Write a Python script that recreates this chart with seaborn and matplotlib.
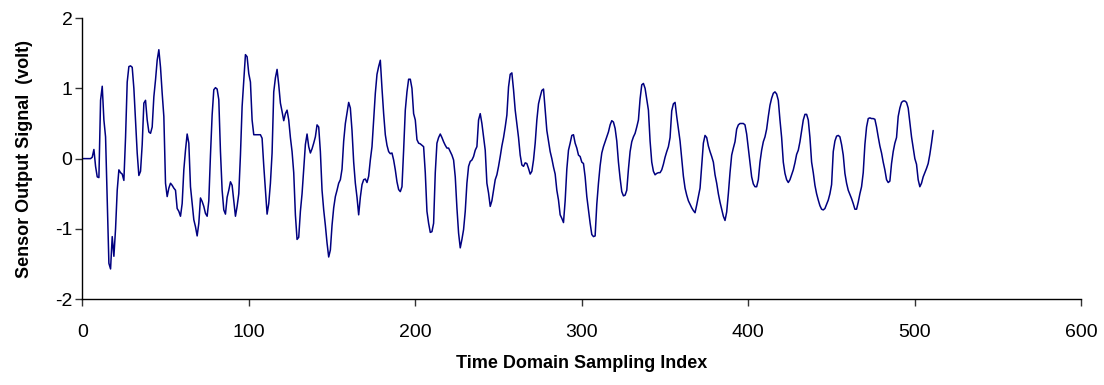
import numpy as np
import pandas as pd
import matplotlib
matplotlib.use('Agg')
import matplotlib.pyplot as plt
import seaborn as sns

# sensor output, one value per sampling index 0..511
signal_volt = [
    0.00, 0.00, 0.00, 0.00, 0.00, 0.00, 0.02, 0.13, -0.11, -0.26,
    -0.27, 0.83, 1.03, 0.55, 0.31, -0.60, -1.49, -1.57, -1.11, -1.39,
    -1.00, -0.45, -0.16, -0.20, -0.22, -0.31, 0.30, 1.09, 1.31, 1.32,
    1.30, 1.00, 0.55, 0.08, -0.24, -0.18, 0.20, 0.79, 0.83, 0.55,
    0.38, 0.36, 0.45, 0.88, 1.12, 1.40, 1.55, 1.30, 0.93, 0.60,
    -0.35, -0.54, -0.42, -0.35, -0.38, -0.42, -0.45, -0.71, -0.75, -0.82,
    -0.64, -0.16, 0.12, 0.35, 0.22, -0.40, -0.64, -0.87, -0.97, -1.10,
    -0.92, -0.56, -0.61, -0.68, -0.78, -0.82, -0.60, 0.05, 0.62, 0.98,
    1.01, 0.99, 0.84, 0.10, -0.45, -0.73, -0.79, -0.55, -0.45, -0.33,
    -0.38, -0.60, -0.82, -0.68, -0.50, 0.05, 0.74, 1.10, 1.48, 1.45,
    1.21, 1.09, 0.55, 0.34, 0.34, 0.34, 0.34, 0.34, 0.29, -0.10,
    -0.45, -0.79, -0.64, -0.35, 0.08, 0.95, 1.15, 1.27, 1.05, 0.79,
    0.67, 0.54, 0.64, 0.69, 0.55, 0.30, 0.10, -0.20, -0.80, -1.15,
    -1.12, -0.75, -0.50, -0.14, 0.20, 0.35, 0.17, 0.08, 0.14, 0.22,
    0.31, 0.48, 0.45, 0.10, -0.45, -0.73, -0.95, -1.20, -1.40, -1.30,
    -0.95, -0.70, -0.54, -0.45, -0.35, -0.30, -0.15, 0.25, 0.50, 0.65,
    0.80, 0.72, 0.40, -0.05, -0.35, -0.55, -0.80, -0.55, -0.37, -0.30,
    -0.29, -0.34, -0.25, -0.02, 0.17, 0.55, 0.93, 1.20, 1.31, 1.40,
    1.00, 0.64, 0.34, 0.19, 0.10, 0.07, 0.08, -0.02, -0.16, -0.33,
    -0.44, -0.47, -0.40, 0.12, 0.69, 0.95, 1.13, 1.13, 1.00, 0.64,
    0.55, 0.27, 0.22, 0.21, 0.19, 0.17, -0.20, -0.75, -0.92, -1.05,
    -1.04, -0.92, -0.20, 0.22, 0.30, 0.35, 0.30, 0.24, 0.19, 0.15,
    0.15, 0.10, 0.05, -0.02, -0.26, -0.70, -1.06, -1.27, -1.15, -1.01,
    -0.75, -0.35, -0.11, -0.04, -0.02, 0.03, 0.12, 0.17, 0.55, 0.64,
    0.50, 0.31, 0.12, -0.35, -0.49, -0.68, -0.60, -0.45, -0.30, -0.23,
    -0.11, 0.03, 0.18, 0.30, 0.45, 0.62, 1.02, 1.20, 1.22, 0.98,
    0.69, 0.50, 0.30, 0.05, -0.09, -0.11, -0.06, -0.07, -0.14, -0.22,
    -0.18, -0.02, 0.22, 0.55, 0.78, 0.88, 0.97, 0.99, 0.70, 0.40,
    0.25, 0.10, 0.00, -0.12, -0.22, -0.45, -0.59, -0.80, -0.85, -0.91,
    -0.60, -0.15, 0.12, 0.22, 0.33, 0.34, 0.22, 0.15, 0.05, 0.03,
    -0.05, -0.07, -0.26, -0.54, -0.73, -0.92, -1.08, -1.11, -1.10, -0.65,
    -0.35, -0.10, 0.08, 0.17, 0.24, 0.31, 0.38, 0.48, 0.54, 0.52,
    0.43, 0.25, -0.05, -0.28, -0.47, -0.53, -0.52, -0.45, -0.15, 0.10,
    0.24, 0.31, 0.36, 0.45, 0.55, 0.85, 1.05, 1.07, 1.00, 0.85,
    0.69, 0.25, -0.05, -0.18, -0.23, -0.21, -0.20, -0.20, -0.16, -0.08,
    0.02, 0.10, 0.17, 0.30, 0.68, 0.78, 0.80, 0.60, 0.42, 0.25,
    0.00, -0.25, -0.42, -0.52, -0.60, -0.65, -0.70, -0.74, -0.77, -0.66,
    -0.54, -0.42, -0.10, 0.22, 0.33, 0.30, 0.18, 0.10, 0.03, -0.05,
    -0.23, -0.35, -0.50, -0.62, -0.72, -0.82, -0.88, -0.76, -0.50, -0.20,
    0.05, 0.15, 0.24, 0.42, 0.48, 0.50, 0.50, 0.50, 0.48, 0.35,
    0.15, -0.05, -0.26, -0.36, -0.40, -0.40, -0.30, -0.05, 0.12, 0.24,
    0.31, 0.42, 0.60, 0.76, 0.86, 0.93, 0.95, 0.92, 0.83, 0.55,
    0.30, -0.05, -0.21, -0.30, -0.34, -0.30, -0.23, -0.16, -0.06, 0.06,
    0.12, 0.24, 0.40, 0.55, 0.63, 0.63, 0.55, 0.30, -0.05, -0.20,
    -0.38, -0.50, -0.59, -0.67, -0.72, -0.73, -0.71, -0.65, -0.59, -0.50,
    -0.37, 0.10, 0.25, 0.32, 0.33, 0.31, 0.20, 0.05, -0.21, -0.35,
    -0.45, -0.51, -0.57, -0.64, -0.72, -0.72, -0.62, -0.50, -0.40, -0.20,
    0.20, 0.45, 0.57, 0.58, 0.57, 0.57, 0.56, 0.45, 0.31, 0.18,
    0.08, -0.05, -0.16, -0.30, -0.34, -0.32, -0.07, 0.10, 0.22, 0.30,
    0.60, 0.72, 0.80, 0.82, 0.82, 0.80, 0.72, 0.52, 0.31, 0.15,
    0.00, -0.08, -0.30, -0.40, -0.35, -0.26, -0.20, -0.14, -0.07, 0.06,
    0.22, 0.40,
]
sample_index = np.arange(len(signal_volt))

x_ticks = [0, 100, 200, 300, 400, 500, 600]
y_ticks = [-2, -1, 0, 1, 2]

df = pd.DataFrame({'index': sample_index, 'volt': signal_volt})

sns.set_style('ticks')
plt.rcParams['font.family'] = ['Liberation Sans', 'DejaVu Sans']
plt.rcParams['axes.unicode_minus'] = False
plt.rcParams['text.color'] = 'black'
plt.rcParams['axes.labelcolor'] = 'black'
plt.rcParams['xtick.labelcolor'] = 'black'
plt.rcParams['ytick.labelcolor'] = 'black'

fig = plt.figure(figsize=(11.04, 3.85), dpi=100)
ax = fig.add_axes([0.0745, 0.223, 0.905, 0.730])

sns.lineplot(data=df, x='index', y='volt', ax=ax, color='#000080', linewidth=1.1)

ax.set_xlim(0, 600)
ax.set_ylim(-2, 2)
ax.set_xticks(x_ticks)
ax.set_yticks(y_ticks)
ax.tick_params(axis='x', labelsize=14, length=5, width=1, color='#333333', pad=13, direction='out')
ax.tick_params(axis='y', labelsize=14, length=5, width=1, color='#333333', pad=2, direction='out')
for s in ['left', 'bottom']:
    ax.spines[s].set_color('black')
    ax.spines[s].set_linewidth(1)
sns.despine(ax=ax)

ax.set_xlabel('Time Domain Sampling Index', fontsize=13, fontweight='bold', labelpad=10)
ax.set_ylabel('Sensor Output Signal  (volt)', fontsize=13, fontweight='bold', labelpad=16)

fig.savefig('out.png', dpi=100)
